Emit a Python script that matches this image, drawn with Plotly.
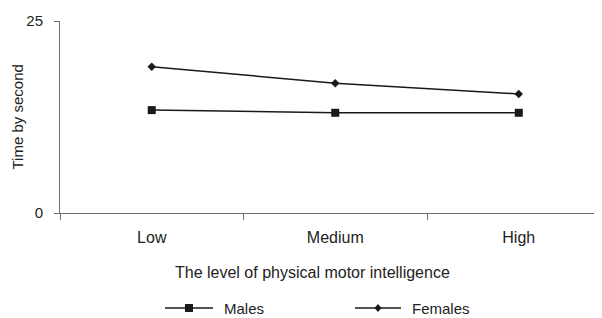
import plotly.graph_objects as go

categories = ["Low", "Medium", "High"]
males = [13.4, 13.05, 13.05]
females = [19.05, 16.9, 15.5]
y_ticks = [0, 25]
series_names = ["Males", "Females"]

FONT = "Liberation Sans, Arial, sans-serif"
LINE = "#1a1a1a"
AX = "#6e6e6e"

# page has an 8px body margin; figure sized to fit the 602x318 window
W, H = 594, 310
ML, MT, MR, MB = 52, 13, 0, 105
PW, PH = W - ML - MR, H - MT - MB  # 542 x 192


def px_x(page_x):
    return (page_x - 60) / PW


def px_y(page_y):
    return (213 - page_y) / PH


fig = go.Figure()
fig.add_trace(go.Scatter(x=categories, y=males, name=series_names[0], mode="lines+markers",
                         line=dict(color=LINE, width=1.5),
                         marker=dict(symbol="square", size=8, color=LINE)))
fig.add_trace(go.Scatter(x=categories, y=females, name=series_names[1], mode="lines+markers",
                         line=dict(color=LINE, width=1.5),
                         marker=dict(symbol="diamond", size=6.5, color=LINE)))

fig.update_layout(
    width=W, height=H,
    margin=dict(l=ML, r=MR, t=MT, b=MB),
    paper_bgcolor="white", plot_bgcolor="white",
    font=dict(family=FONT, size=16, color="#222222"),
    showlegend=False,
    xaxis=dict(type="category", range=[-0.5, -0.5 + PW / 183.5], showline=True, linecolor=AX,
               linewidth=1, ticks="outside", tickson="boundaries", ticklen=6, tickcolor=AX,
               showgrid=False, zeroline=False, tickfont=dict(size=16),
               ticklabelstandoff=10),
    yaxis=dict(range=[0, 25], tickvals=y_ticks, showline=True, linecolor=AX, linewidth=1,
               ticks="outside", ticklen=5, tickcolor=AX, showgrid=False, zeroline=False,
               tickfont=dict(size=15), ticklabelstandoff=8),
)

annotations = [
    dict(text="The level of physical motor intelligence", xref="paper", yref="paper",
         x=px_x(312.5), y=px_y(272), xanchor="center", yanchor="middle",
         showarrow=False, font=dict(size=16)),
    dict(text="Time by second", xref="paper", yref="paper", x=px_x(16.5),
         y=px_y(117), xanchor="center", yanchor="middle", textangle=-90,
         showarrow=False, font=dict(size=15)),
]

# manual legend (longer sample lines than plotly's built-in legend)
legend_items = [
    (series_names[0], 165, 213, "square"),
    (series_names[1], 355, 401, "diamond"),
]
ly = px_y(308)
shapes = []
for name, x0, x1, sym in legend_items:
    shapes.append(dict(type="line", xref="paper", yref="paper", x0=px_x(x0), x1=px_x(x1),
                       y0=ly, y1=ly, line=dict(color=LINE, width=1.5)))
    cx = px_x((x0 + x1) / 2)
    if sym == "square":
        shapes.append(dict(type="rect", xref="paper", yref="paper", xsizemode="pixel",
                           ysizemode="pixel", xanchor=cx, yanchor=ly, x0=-4, x1=4, y0=-4, y1=4,
                           fillcolor=LINE, line=dict(width=0)))
    else:
        shapes.append(dict(type="path", xref="paper", yref="paper", xsizemode="pixel",
                           ysizemode="pixel", xanchor=cx, yanchor=ly,
                           path="M0,4 L3.5,0 L0,-4 L-3.5,0 Z",
                           fillcolor=LINE, line=dict(width=0)))
    annotations.append(dict(text=name, xref="paper", yref="paper", x=px_x(x1 + 9), y=ly,
                            xanchor="left", yanchor="middle", showarrow=False,
                            font=dict(size=15)))

fig.update_layout(annotations=annotations, shapes=shapes)

fig.write_html("out.html")
